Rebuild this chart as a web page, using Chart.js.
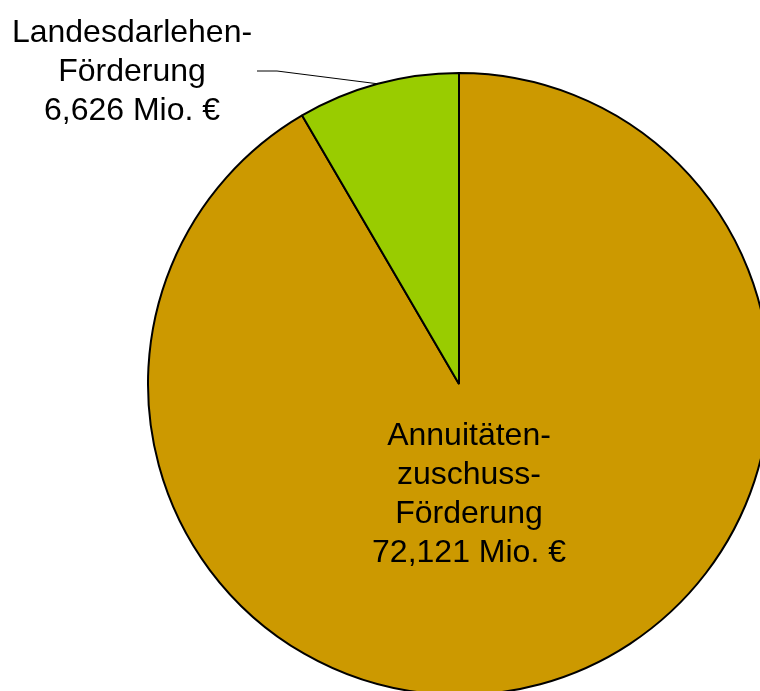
<!DOCTYPE html>
<html>
<head>
<meta charset="utf-8">
<script src="https://cdn.jsdelivr.net/npm/chart.js@4"></script>
<style>
  html, body { margin: 0; padding: 0; background: #fff; overflow: hidden; }
  #wrap { width: 780px; height: 700px; }
</style>
</head>
<body>
<div id="wrap"><canvas id="foerderChart" width="780" height="700"></canvas></div>
<script>
// Förderarten und Beträge (Mio. €)
const kategorien = [
  ["Annuitäten-", "zuschuss-", "Förderung"],
  ["Landesdarlehen-", "Förderung"],
];
const betraege = [72.121, 6.626];
const farben = ["#CC9900", "#99CC00"];

function fmt(v) {
  return v.toFixed(3).replace(".", ",") + " Mio. €";
}

// Beschriftungen direkt auf bzw. neben die Tortenstücke zeichnen
const labelPlugin = {
  id: "labels",
  afterDatasetsDraw(chart) {
    const ctx = chart.ctx;
    const arcs = chart.getDatasetMeta(0).data;
    ctx.save();
    ctx.font = "32px 'Liberation Sans', Arial, sans-serif";
    ctx.fillStyle = "#000";
    ctx.textAlign = "center";
    ctx.textBaseline = "alphabetic";

    // Großes Stück: Text innen
    const a0 = arcs[0];
    const lines0 = kategorien[0].concat([fmt(betraege[0])]);
    lines0.forEach((t, i) => {
      ctx.fillText(t, a0.x + 10, a0.y + 61 + i * 39);
    });

    // Kleines Stück: Text außen mit Führungslinie
    const a1 = arcs[1];
    const lines1 = kategorien[1].concat([fmt(betraege[1])]);
    lines1.forEach((t, i) => {
      ctx.fillText(t, 132, 42 + i * 39);
    });
    const mid = (a1.startAngle + a1.endAngle) / 2;
    const ex = a1.x + Math.cos(mid) * a1.outerRadius;
    const ey = a1.y + Math.sin(mid) * a1.outerRadius;
    ctx.strokeStyle = "#000";
    ctx.lineWidth = 1;
    ctx.beginPath();
    ctx.moveTo(257, 71);
    ctx.lineTo(277, 71);
    ctx.lineTo(ex, ey);
    ctx.stroke();
    ctx.restore();
  },
};

const ctx = document.getElementById("foerderChart").getContext("2d");
new Chart(ctx, {
  type: "pie",
  data: {
    labels: kategorien.map((k) => k.join(" ")),
    datasets: [
      {
        data: betraege,
        backgroundColor: farben,
        borderColor: "#000",
        borderWidth: 2,
        hoverOffset: 0,
      },
    ],
  },
  options: {
    responsive: false,
    animation: false,
    radius: 311,
    layout: { padding: { left: 148, top: 73, right: 10, bottom: 5 } },
    plugins: {
      legend: { display: false },
      tooltip: { enabled: false },
    },
  },
  plugins: [labelPlugin],
});
</script>
</body>
</html>
